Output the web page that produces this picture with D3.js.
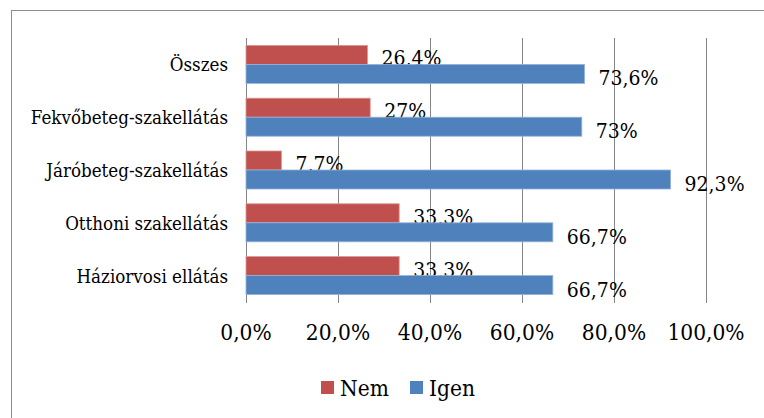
<!DOCTYPE html>
<html lang="hu">
<head>
  <meta charset="UTF-8">
  <title>Nem / Igen</title>
  <script src="https://d3js.org/d3.v7.min.js"></script>
  <style>
    body { margin: 0; background: #fff; }
  </style>
</head>
<body>
  <div id="chart"></div>
  <script>
    // adatok
    const categories = ["Összes", "Fekvőbeteg-szakellátás", "Járóbeteg-szakellátás", "Otthoni szakellátás", "Háziorvosi ellátás"];
    const series = ["Nem", "Igen"];
    const nem  = [26.4, 27, 7.7, 33.3, 33.3];
    const igen = [73.6, 73, 92.3, 66.7, 66.7];
    const ticks = [0, 20, 40, 60, 80, 100];
    const colors = { Nem: "#C0504D", Igen: "#4F81BD" };
    const strokes = { Nem: "#D99694", Igen: "#95B3D7" };
    const font = "DejaVu Serif";

    const width = 764, height = 418;
    const svg = d3.select("#chart").append("svg")
      .attr("width", width).attr("height", height)
      .attr("font-family", font);

    // a DejaVu Serif szélesebb, ezért vízszintesen kicsit összenyomjuk
    const at = (px, py, sx) => `translate(${px},${py}) scale(${sx},1)`;

    // keret
    svg.append("rect")
      .attr("x", 11.5).attr("y", 10.5)
      .attr("width", 800).attr("height", 500)
      .attr("fill", "none").attr("stroke", "#8c8c8c");

    const x = d3.scaleLinear().domain([0, 100]).range([246, 706]);
    const y = d3.scaleBand().domain(categories).range([38, 302])
      .paddingInner(0.28).paddingOuter(0.14);
    const ys = d3.scaleBand().domain(series).range([0, y.bandwidth()]);

    // rácsvonalak
    svg.append("g").selectAll("line").data(ticks).join("line")
      .attr("x1", d => Math.round(x(d)) + 0.5).attr("x2", d => Math.round(x(d)) + 0.5)
      .attr("y1", 38).attr("y2", 303)
      .attr("stroke", "#868686").attr("stroke-width", 1);

    // tengelyfeliratok
    svg.append("g").selectAll("text").data(ticks).join("text")
      .attr("transform", d => at(x(d), 340, 0.88))
      .attr("text-anchor", "middle")
      .attr("font-size", 23)
      .text(d => d.toFixed(1).replace(".", ",") + "%");

    // kategóriák
    svg.append("g").selectAll("text").data(categories).join("text")
      .attr("transform", d => at(228, y(d) + y.bandwidth() / 2 + 7, 0.93))
      .attr("text-anchor", "end")
      .attr("font-size", 18)
      .text(d => d);

    const rows = categories.map((c, i) => ({ c, Nem: nem[i], Igen: igen[i] }));
    const fmt = v => String(v).replace(".", ",") + "%";

    series.forEach(s => {
      const g = svg.append("g");
      g.selectAll("rect").data(rows).join("rect")
        .attr("x", x(0))
        .attr("y", d => y(d.c) + ys(s))
        .attr("width", d => x(d[s]) - x(0))
        .attr("height", ys.bandwidth())
        .attr("fill", colors[s])
        .attr("stroke", strokes[s]).attr("stroke-width", 0.8);
      g.selectAll("text").data(rows).join("text")
        .attr("transform", d => at(x(d[s]) + 14, y(d.c) + ys(s) + ys.bandwidth() + (s === "Nem" ? 1 : 2), 0.9))
        .attr("font-size", 21)
        .text(d => fmt(d[s]));
    });

    // jelmagyarázat
    const legX = [321, 410];
    const leg = svg.append("g");
    series.forEach((s, i) => {
      leg.append("rect")
        .attr("x", legX[i]).attr("y", 381)
        .attr("width", 13).attr("height", 13)
        .attr("fill", colors[s]);
      leg.append("text")
        .attr("transform", at(legX[i] + 19, 396, 0.88))
        .attr("font-size", 23)
        .text(s);
    });
  </script>
</body>
</html>
